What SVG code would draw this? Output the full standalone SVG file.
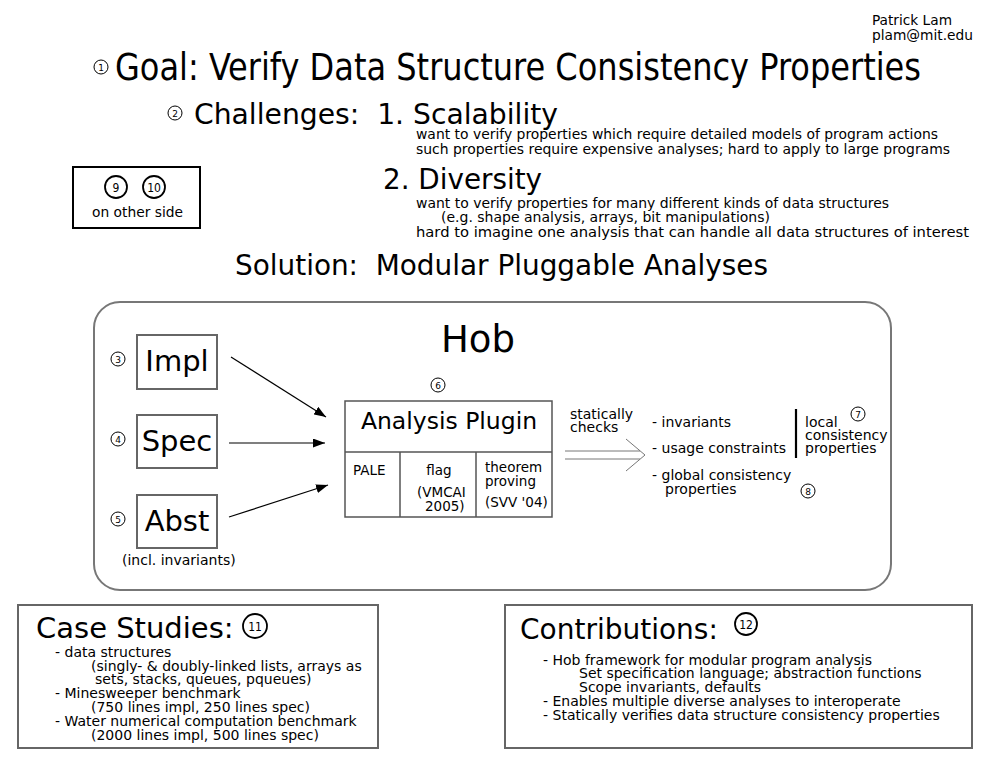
<svg xmlns="http://www.w3.org/2000/svg" width="990" height="765" viewBox="0 0 990 765">
<style>
.c{font-family:"DejaVu Sans Condensed","DejaVu Sans","Liberation Sans",sans-serif;font-stretch:condensed;fill:#000}
.n{font-family:"DejaVu Sans","Liberation Sans",sans-serif;fill:#000}
.box{fill:#fff;stroke:#666;stroke-width:2}
.thin{fill:none;stroke:#555;stroke-width:1.5}
.sc{fill:#fff;stroke:#000;stroke-width:1}
.bc{fill:#fff;stroke:#000;stroke-width:1.8}
.sd{font-family:"DejaVu Sans","Liberation Sans",sans-serif;font-size:9px;text-anchor:middle}
.bd{font-family:"DejaVu Sans Condensed","DejaVu Sans",sans-serif;font-size:12px;text-anchor:middle}
.conn{stroke:#000;stroke-width:1.2;fill:none}
</style>
<defs>
<marker id="ah" markerWidth="12" markerHeight="9" refX="12" refY="4.5" orient="auto" markerUnits="userSpaceOnUse">
<path d="M0,0 L12,4.5 L0,9 Z" fill="#000"/>
</marker>
</defs>
<rect width="990" height="765" fill="#fff"/>

<g id="author">
<text class="c" x="872" y="25" font-size="14" textLength="80" lengthAdjust="spacingAndGlyphs">Patrick Lam</text>
<text class="c" x="872" y="40" font-size="14" textLength="101" lengthAdjust="spacingAndGlyphs">plam@mit.edu</text>
</g>

<g id="goal">
<circle class="sc" cx="101" cy="67" r="7"/><text class="sd" x="101" y="70.5">1</text>
<text class="c" x="115" y="80" font-size="37" textLength="806" lengthAdjust="spacingAndGlyphs">Goal: Verify Data Structure Consistency Properties</text>
</g>

<g id="challenges">
<circle class="sc" cx="175" cy="113" r="7"/><text class="sd" x="175" y="116.5">2</text>
<text class="c" x="194" y="124" font-size="29" textLength="364" lengthAdjust="spacingAndGlyphs">Challenges:&#160; 1. Scalability</text>
<text class="c" x="416" y="139" font-size="14" textLength="522" lengthAdjust="spacingAndGlyphs">want to verify properties which require detailed models of program actions</text>
<text class="c" x="416" y="154" font-size="14" textLength="534" lengthAdjust="spacingAndGlyphs">such properties require expensive analyses; hard to apply to large programs</text>
<text class="c" x="383" y="189" font-size="29" textLength="159" lengthAdjust="spacingAndGlyphs">2. Diversity</text>
<text class="c" x="416" y="208" font-size="14" textLength="473" lengthAdjust="spacingAndGlyphs">want to verify properties for many different kinds of data structures</text>
<text class="c" x="441" y="222" font-size="14" textLength="329" lengthAdjust="spacingAndGlyphs">(e.g. shape analysis, arrays, bit manipulations)</text>
<text class="c" x="416" y="237" font-size="14" textLength="553" lengthAdjust="spacingAndGlyphs">hard to imagine one analysis that can handle all data structures of interest</text>
</g>

<g id="other-side">
<rect x="73" y="167" width="127" height="61" fill="#fff" stroke="#000" stroke-width="2"/>
<circle class="bc" cx="116" cy="187" r="11"/><text class="bd" x="116" y="191.5">9</text>
<circle class="bc" cx="154" cy="187" r="11"/><text class="bd" x="154" y="191.5">10</text>
<text class="c" x="92" y="217" font-size="14" textLength="91" lengthAdjust="spacingAndGlyphs">on other side</text>
</g>

<g id="solution">
<text class="c" x="235" y="275" font-size="29" textLength="533" lengthAdjust="spacingAndGlyphs">Solution:&#160; Modular Pluggable Analyses</text>
</g>

<g id="hob">
<rect x="94" y="302" width="797" height="288" rx="26" ry="26" fill="#fff" stroke="#777" stroke-width="2"/>
<text class="n" x="478" y="352" font-size="37" text-anchor="middle">Hob</text>
</g>

<g id="impl">
<circle class="sc" cx="118" cy="359" r="7"/><text class="sd" x="118" y="362.5">3</text>
<rect class="box" x="137" y="335" width="80" height="54"/>
<text class="n" x="177" y="371" font-size="29" text-anchor="middle">Impl</text>
</g>

<g id="spec">
<circle class="sc" cx="118" cy="439" r="7"/><text class="sd" x="118" y="442.5">4</text>
<rect class="box" x="137" y="415" width="80" height="53"/>
<text class="n" x="177" y="451" font-size="29" text-anchor="middle">Spec</text>
</g>

<g id="abst">
<circle class="sc" cx="118" cy="519" r="7"/><text class="sd" x="118" y="522.5">5</text>
<rect class="box" x="137" y="495" width="80" height="53"/>
<text class="n" x="177" y="531" font-size="29" text-anchor="middle">Abst</text>
<text class="n" x="122" y="565" font-size="14">(incl. invariants)</text>
</g>

<g id="analysis-plugin">
<circle class="sc" cx="438" cy="385" r="7"/><text class="sd" x="438" y="388.5">6</text>
<rect x="345" y="401" width="207" height="116" fill="#fff" stroke="#555" stroke-width="1.5"/>
<line class="thin" x1="345" y1="452" x2="552" y2="452"/>
<line class="thin" x1="400" y1="452" x2="400" y2="517"/>
<line class="thin" x1="476" y1="452" x2="476" y2="517"/>
<text class="n" x="449" y="429" font-size="23.5" text-anchor="middle">Analysis Plugin</text>
<text class="n" x="353" y="475" font-size="13.5">PALE</text>
<text class="n" x="439" y="475" font-size="13.5" text-anchor="middle">flag</text>
<text class="n" x="417" y="497" font-size="13.5">(VMCAI</text>
<text class="n" x="425" y="511" font-size="13.5">2005)</text>
<text class="n" x="485" y="472" font-size="13.5">theorem</text>
<text class="n" x="485" y="486" font-size="13.5">proving</text>
<text class="n" x="485" y="507" font-size="13.5">(SVV '04)</text>
</g>

<g id="checks">
<text class="n" x="570" y="419" font-size="14">statically</text>
<text class="n" x="570" y="432" font-size="14">checks</text>
<text class="n" x="652" y="427" font-size="14">- invariants</text>
<text class="n" x="652" y="453" font-size="14">- usage constraints</text>
<line x1="796" y1="409" x2="796" y2="458" stroke="#000" stroke-width="2.2"/>
<text class="n" x="805" y="427" font-size="14">local</text>
<text class="n" x="805" y="440" font-size="14">consistency</text>
<text class="n" x="805" y="453" font-size="14">properties</text>
<circle class="sc" cx="858" cy="414" r="7"/><text class="sd" x="858" y="417.5">7</text>
<text class="n" x="652" y="480" font-size="14">- global consistency</text>
<text class="n" x="665" y="494" font-size="14">properties</text>
<circle class="sc" cx="808" cy="491" r="7"/><text class="sd" x="808" y="494.5">8</text>
</g>

<g id="connectors">
<line class="conn" x1="231" y1="357" x2="326" y2="417" marker-end="url(#ah)"/>
<line class="conn" x1="229" y1="443" x2="325" y2="443" marker-end="url(#ah)"/>
<line class="conn" x1="229" y1="517" x2="328" y2="485" marker-end="url(#ah)"/>
<g stroke="#777" stroke-width="1" fill="none">
<line x1="565" y1="451" x2="640" y2="451"/>
<line x1="565" y1="459" x2="640" y2="459"/>
<polyline points="626,439 645,455 626,471"/>
</g>
</g>

<g id="case-studies">
<rect class="box" x="18" y="605" width="360" height="143"/>
<text class="n" x="36" y="638" font-size="29">Case Studies:</text>
<circle class="bc" cx="255" cy="626" r="12"/><text class="bd" x="255" y="630.5">11</text>
<text class="n" x="55" y="657" font-size="14">- data structures</text>
<text class="n" x="91" y="671" font-size="14">(singly- &amp; doubly-linked lists, arrays as</text>
<text class="n" x="95" y="684" font-size="14">sets, stacks, queues, pqueues)</text>
<text class="n" x="55" y="698" font-size="14">- Minesweeper benchmark</text>
<text class="n" x="91" y="712" font-size="14">(750 lines impl, 250 lines spec)</text>
<text class="n" x="55" y="726" font-size="14">- Water numerical computation benchmark</text>
<text class="n" x="91" y="740" font-size="14">(2000 lines impl, 500 lines spec)</text>
</g>

<g id="contributions">
<rect class="box" x="505" y="605" width="467" height="143"/>
<text class="n" x="520" y="639" font-size="28">Contributions:</text>
<circle class="bc" cx="746" cy="624" r="11"/><text class="bd" x="746" y="628.5">12</text>
<text class="n" x="543" y="665" font-size="14">- Hob framework for modular program analysis</text>
<text class="n" x="579" y="678" font-size="14">Set specification language; abstraction functions</text>
<text class="n" x="579" y="692" font-size="14">Scope invariants, defaults</text>
<text class="n" x="543" y="706" font-size="14">- Enables multiple diverse analyses to interoperate</text>
<text class="n" x="543" y="720" font-size="14">- Statically verifies data structure consistency properties</text>
</g>
</svg>
